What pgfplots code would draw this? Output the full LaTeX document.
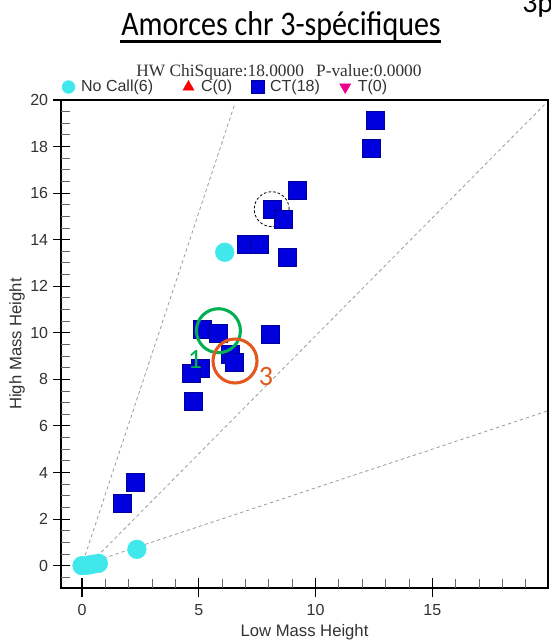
\documentclass[border=0pt]{standalone}
\usepackage{fontspec}
\setmainfont{Liberation Sans}
\newfontfamily\calibri{Carlito}
\newfontfamily\serifx{Liberation Serif}
\usepackage{pgfplots}
\pgfplotsset{compat=1.18}
\definecolor{nocall}{RGB}{64,232,236}
\definecolor{ctblue}{RGB}{0,0,222}
\definecolor{ctedge}{RGB}{0,0,150}
\definecolor{grn}{RGB}{0,176,80}
\definecolor{org}{RGB}{226,88,30}
\definecolor{txt}{RGB}{50,50,50}
\definecolor{dline}{RGB}{155,155,155}
\begin{document}
\begin{tikzpicture}
\begin{axis}[
  at={(0,0)}, anchor=south west,
  scale only axis, width=365.25pt, height=366pt,
  xmin=-0.9, xmax=19.95, ymin=-0.96, ymax=20,
  xtick={0,5,10,15}, ytick={0,2,...,20},
  tick pos=left, tick align=inside,
  major tick length=0pt, minor tick length=0pt,
  axis line style={line width=0.8pt, black},
  /pgf/number format/assume math mode=true,
  ticklabel style={font=\fontsize{12}{14}\selectfont, text=txt},
  xticklabel style={anchor=center, yshift=-16.5pt},
  yticklabel style={anchor=east, inner sep=0pt, xshift=-9.5pt},
  xlabel={Low Mass Height}, ylabel={High Mass Height},
  label style={font=\fontsize{12.5}{14}\selectfont, text=txt},
  xlabel style={at={(axis description cs:0.5,-0.0902)}, anchor=center},
  ylabel style={at={(axis description cs:-0.0903,0.5)}, anchor=center},
  legend columns=4,
  legend style={at={(rel axis cs:0.0012,1.0266)}, anchor=west, draw=none, fill=none,
    inner sep=0pt, font=\fontsize{12}{14}\selectfont, text=txt,
    /tikz/every even column/.append style={column sep=12pt}},
  legend image code/.code={%
    \path (-4.8pt,0pt) (7.25pt,0pt);
    \draw[#1, mark size=4.8pt] plot coordinates {(0pt,0pt)};},
]
% dashed cluster boundary lines
\addplot[forget plot, dline, line width=0.6pt, dash pattern=on 2.5pt off 2.2pt] coordinates {(0.14,0.46) (6.55,19.86)};
\addplot[forget plot, dline, line width=0.6pt, dash pattern=on 2.5pt off 2.2pt] coordinates {(0.64,0.39) (19.8,19.8)};
\addplot[forget plot, dline, line width=0.6pt, dash pattern=on 2.5pt off 2.2pt] coordinates {(0.92,0.32) (19.95,6.65)};
% dashed highlight circle (behind the squares)
\addplot[forget plot, only marks, mark=o, mark size=13.1pt, mark options={black, line width=0.6pt, dash pattern=on 2pt off 1.5pt}] coordinates {(8.12,15.31)};
% No Call
\addplot[only marks, mark=*, mark size=7pt, color=nocall, mark options={draw=nocall, fill=nocall}] coordinates {
(6.11,13.46) (2.35,0.70) (0.0,0.0) (0.25,0.02) (0.45,0.06) (0.70,0.10)};
\addlegendentry{No Call(6)\rule{7.5pt}{0pt}}
\addlegendimage{only marks, mark=triangle*, color=red, mark options={draw=red, fill=red}}
\addlegendentry{C(0)}
% CT
\addplot[only marks, mark=square*, mark size=6.75pt, color=ctblue, mark options={draw=ctedge, fill=ctblue, line width=0.5pt}] coordinates {
(12.56,19.12) (12.39,17.93) (9.23,16.11) (8.16,15.32) (8.62,14.88)
(7.03,13.79) (7.59,13.79) (8.77,13.23) (5.17,10.15) (5.84,9.98)
(8.05,9.95) (6.37,9.09) (6.51,8.72) (5.06,8.48) (4.70,8.26)
(4.77,7.04) (2.28,3.58) (1.72,2.68)};
\addlegendentry{CT(18)}
\addlegendimage{only marks, mark=triangle*, color=magenta, mark options={draw=magenta, fill=magenta, rotate=180}}
\addlegendentry{T(0)}
% annotation circles
\addplot[forget plot, only marks, mark=o, mark size=16.5pt, mark options={grn, line width=2.3pt}] coordinates {(5.84,10.09)};
\addplot[forget plot, only marks, mark=o, mark size=16.5pt, mark options={org, line width=2.3pt}] coordinates {(6.55,8.79)};
\coordinate (lab1) at (axis cs:4.84,8.84);
\coordinate (lab3) at (axis cs:7.88,8.11);
\end{axis}
% frame tick marks (axis box at origin; 17.518pt per x unit, 17.462pt per y unit)
\foreach \x in {0,5,10,15}
  \draw[line width=0.8pt, black] ({(\x+0.9)*17.518pt},-7pt) -- ({(\x+0.9)*17.518pt},7.5pt);
\foreach \x in {1,2,3,4,6,7,8,9,11,12,13,14,16,17,18,19}
  \draw[line width=0.7pt, black!60] ({(\x+0.9)*17.518pt},0pt) -- ({(\x+0.9)*17.518pt},6.5pt);
\foreach \y in {0,2,...,20}
  \draw[line width=0.8pt, black] (-6pt,{(\y+0.96)*17.462pt}) -- (6.75pt,{(\y+0.96)*17.462pt});
\foreach \y in {-0.5,0.5,1,1.5,2.5,3,3.5,4.5,5,5.5,6.5,7,7.5,8.5,9,9.5,10.5,11,11.5,12.5,13,13.5,14.5,15,15.5,16.5,17,17.5,18.5,19,19.5}
  \draw[line width=0.7pt, black!60] (0pt,{(\y+0.96)*17.462pt}) -- (6.5pt,{(\y+0.96)*17.462pt});
\node[text=grn, font=\calibri\fontsize{21}{21}\selectfont] at (lab1) {1};
\node[text=org, font=\calibri\fontsize{21}{21}\selectfont] at (lab3) {3};
\pgfresetboundingbox
\useasboundingbox (-45.75pt,-39.75pt) rectangle (366.75pt,441pt);
\node[anchor=base, font=\calibri\fontsize{22.5}{27}\selectfont, inner sep=0pt] at (165pt,414pt) {\scalebox{1}[1.15]{Amorces chr 3-spécifiques}};
\draw[line width=2.2pt] (44.25pt,409.6pt) -- (285pt,409.6pt);
\node[anchor=base, font=\serifx\fontsize{13}{16}\selectfont, text=txt, inner sep=0pt] at (163.5pt,383.6pt) {HW ChiSquare:18.0000\hspace{0.7em}P-value:0.0000};
\node[anchor=base west, font=\calibri\fontsize{22.5}{27}\selectfont, inner sep=0pt] at (345.75pt,431.25pt) {3p};
\end{tikzpicture}
\end{document}
